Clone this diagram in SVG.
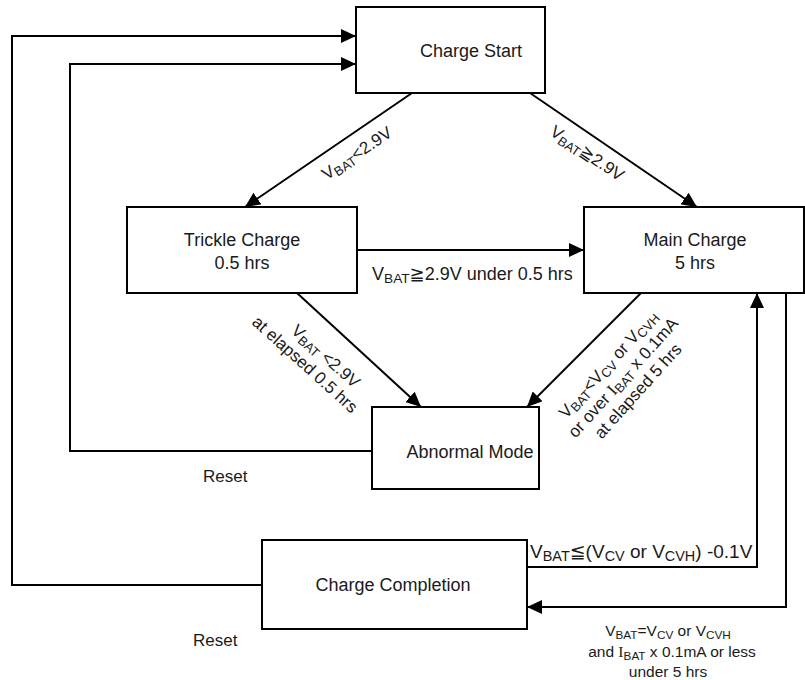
<svg xmlns="http://www.w3.org/2000/svg" width="805" height="680" viewBox="0 0 805 680">
<defs>
<marker id="arr" markerUnits="userSpaceOnUse" markerWidth="16" markerHeight="14" refX="15" refY="7" orient="auto">
<path d="M0,0 L15,7 L0,14 Z" fill="#000"/>
</marker>
<style>
.box{fill:#fff;stroke:#000;stroke-width:2}
.ln{fill:none;stroke:#000;stroke-width:2}
text{font-family:"Liberation Sans",Arial,"DejaVu Sans",sans-serif;fill:#1a1a1a}
.n{font-size:18px;text-anchor:middle}
.l{font-size:17px}
.h{font-size:18px}
.h2{font-size:19px}
.s{font-size:15.5px;text-anchor:middle}
.sub{font-size:76%}
.ser{font-family:"Liberation Serif",serif}
</style>
</defs>
<rect width="805" height="680" fill="#fff"/>
<g id="connectors">
<path class="ln" d="M262,585 H12 V36 H356" marker-end="url(#arr)"/>
<path class="ln" d="M372,451 H70 V64 H356" marker-end="url(#arr)"/>
<path class="ln" d="M412,93 L245,207" marker-end="url(#arr)"/>
<path class="ln" d="M530,93 L697,207" marker-end="url(#arr)"/>
<path class="ln" d="M357,250 H584" marker-end="url(#arr)"/>
<path class="ln" d="M297,293 L421,407" marker-end="url(#arr)"/>
<path class="ln" d="M641,293 L527,407" marker-end="url(#arr)"/>
<path class="ln" d="M527,567 H757 V293" marker-end="url(#arr)"/>
<path class="ln" d="M786,293 V607 H527" marker-end="url(#arr)"/>
</g>
<g id="charge-start">
<rect class="box" x="356" y="7" width="189" height="86"/>
<text class="n" x="471" y="57">Charge Start</text>
</g>
<g id="trickle-charge">
<rect class="box" x="127" y="207" width="230" height="86"/>
<text class="n" x="242" y="246">Trickle Charge</text>
<text class="n" x="242" y="269">0.5 hrs</text>
</g>
<g id="main-charge">
<rect class="box" x="584" y="207" width="220" height="86"/>
<text class="n" x="695" y="246">Main Charge</text>
<text class="n" x="695" y="269">5 hrs</text>
</g>
<g id="abnormal-mode">
<rect class="box" x="372" y="407" width="167" height="82"/>
<text class="n" x="470" y="458">Abnormal Mode</text>
</g>
<g id="charge-completion">
<rect class="box" x="262" y="540" width="265" height="89"/>
<text class="n" x="393" y="591">Charge Completion</text>
</g>
<g id="labels">
<text class="l" transform="translate(360,158) rotate(-34)" text-anchor="middle">V<tspan class="sub" dy="3">BAT</tspan><tspan dy="-3">&lt;2.9V</tspan></text>
<text class="l" transform="translate(584,158) rotate(34)" text-anchor="middle">V<tspan class="sub" dy="3">BAT</tspan><tspan dy="-3">≧2.9V</tspan></text>
<text class="h" x="372" y="280">V<tspan class="sub" dy="3">BAT</tspan><tspan dy="-3">≧2.9V under 0.5 hrs</tspan></text>
<g transform="translate(326,356) rotate(42)">
<text class="l" x="0" y="6" text-anchor="middle">V<tspan class="sub" dy="3">BAT</tspan><tspan dy="-3"> &lt;2.9V</tspan></text>
<text class="l" x="-10" y="26" text-anchor="middle">at elapsed 0.5 hrs</text>
</g>
<g transform="translate(608,364) rotate(-48)">
<text class="l" x="0" y="6" text-anchor="middle">V<tspan class="sub" dy="3">BAT</tspan><tspan dy="-3">&lt;V</tspan><tspan class="sub" dy="3">CV</tspan><tspan dy="-3"> or V</tspan><tspan class="sub" dy="3">CVH</tspan></text>
<text class="l" x="0" y="26" text-anchor="middle">or over <tspan class="ser">I</tspan><tspan class="sub" dy="3">BAT</tspan><tspan dy="-3"> x 0.1mA</tspan></text>
<text class="l" x="0" y="46" text-anchor="middle">at elapsed 5 hrs</text>
</g>
<text class="h2" x="530" y="558">V<tspan class="sub" dy="3">BAT</tspan><tspan dy="-3">≦(V</tspan><tspan class="sub" dy="3">CV</tspan><tspan dy="-3"> or V</tspan><tspan class="sub" dy="3">CVH</tspan><tspan dy="-3">) -0.1V</tspan></text>
<text class="s" x="668" y="636">V<tspan class="sub" dy="3">BAT</tspan><tspan dy="-3">=V</tspan><tspan class="sub" dy="3">CV</tspan><tspan dy="-3"> or V</tspan><tspan class="sub" dy="3">CVH</tspan></text>
<text class="s" x="672" y="657">and <tspan class="ser">I</tspan><tspan class="sub" dy="3">BAT</tspan><tspan dy="-3"> x 0.1mA or less</tspan></text>
<text class="s" x="668" y="677">under 5 hrs</text>
<text class="l" x="203" y="482">Reset</text>
<text class="l" x="193" y="646">Reset</text>
</g>
</svg>
